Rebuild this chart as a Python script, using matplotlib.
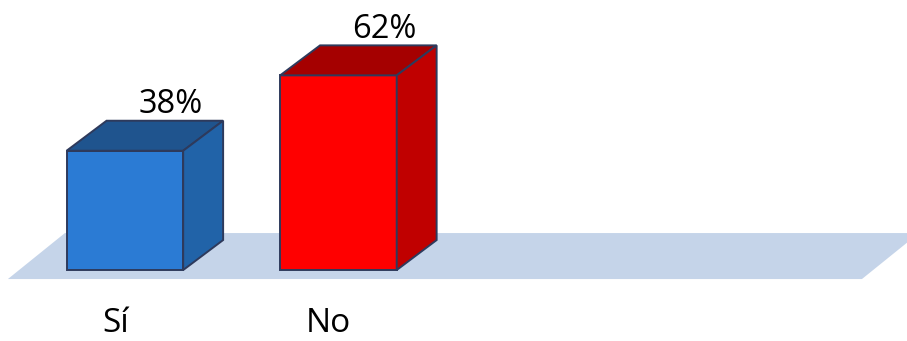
import matplotlib.pyplot as plt

plt.rcParams['font.family'] = ['Open Sans', 'DejaVu Sans']

categories = ["Sí", "No"]
values = [38, 62]
labels = ["38%", "62%"]

# front / top / side shades for each bar
front_colors = ["#2b7bd4", "#ff0000"]
top_colors = ["#1f548e", "#a50000"]
side_colors = ["#2163a8", "#c00000"]
edge = "#2e3a5c"

bar_w = 0.546
dx, dy = 0.187, 9.55          # bar depth offset (x units, % units)
fdx, fdy = 0.267, 14.65       # floor depth offset
floor_y = -2.87
floor_x0, floor_x1 = -0.548, 3.452

fig = plt.figure(figsize=(9.07, 3.41), dpi=100)
ax = fig.add_axes([0, 0, 1, 1])
ax.set_xlim(-0.585, 3.663)
ax.set_ylim(-22.6, 86)
ax.axis("off")

# floor
ax.fill([floor_x0, floor_x1, floor_x1 + fdx, floor_x0 + fdx],
        [floor_y, floor_y, floor_y + fdy, floor_y + fdy],
        color="#c5d4e9", lw=0, zorder=1)

for i, v in enumerate(values):
    x0, x1 = i - bar_w / 2, i + bar_w / 2
    kw = dict(edgecolor=edge, lw=1.4, joinstyle="miter", zorder=2)
    # front face
    ax.fill([x0, x1, x1, x0], [0, 0, v, v], facecolor=front_colors[i], **kw)
    # top face
    ax.fill([x0, x1, x1 + dx, x0 + dx], [v, v, v + dy, v + dy],
            facecolor=top_colors[i], **kw)
    # right side face
    ax.fill([x1, x1 + dx, x1 + dx, x1], [0, dy, v + dy, v],
            facecolor=side_colors[i], **kw)
    ax.text(i + 0.213, v + dy + 2.5, labels[i], ha="center", va="baseline",
            fontsize=23.5, color="black", zorder=3)
    ax.text(i - 0.045, -19.6, categories[i], ha="center", va="baseline",
            fontsize=24, color="black", zorder=3)

fig.savefig("out.png", dpi=100)
